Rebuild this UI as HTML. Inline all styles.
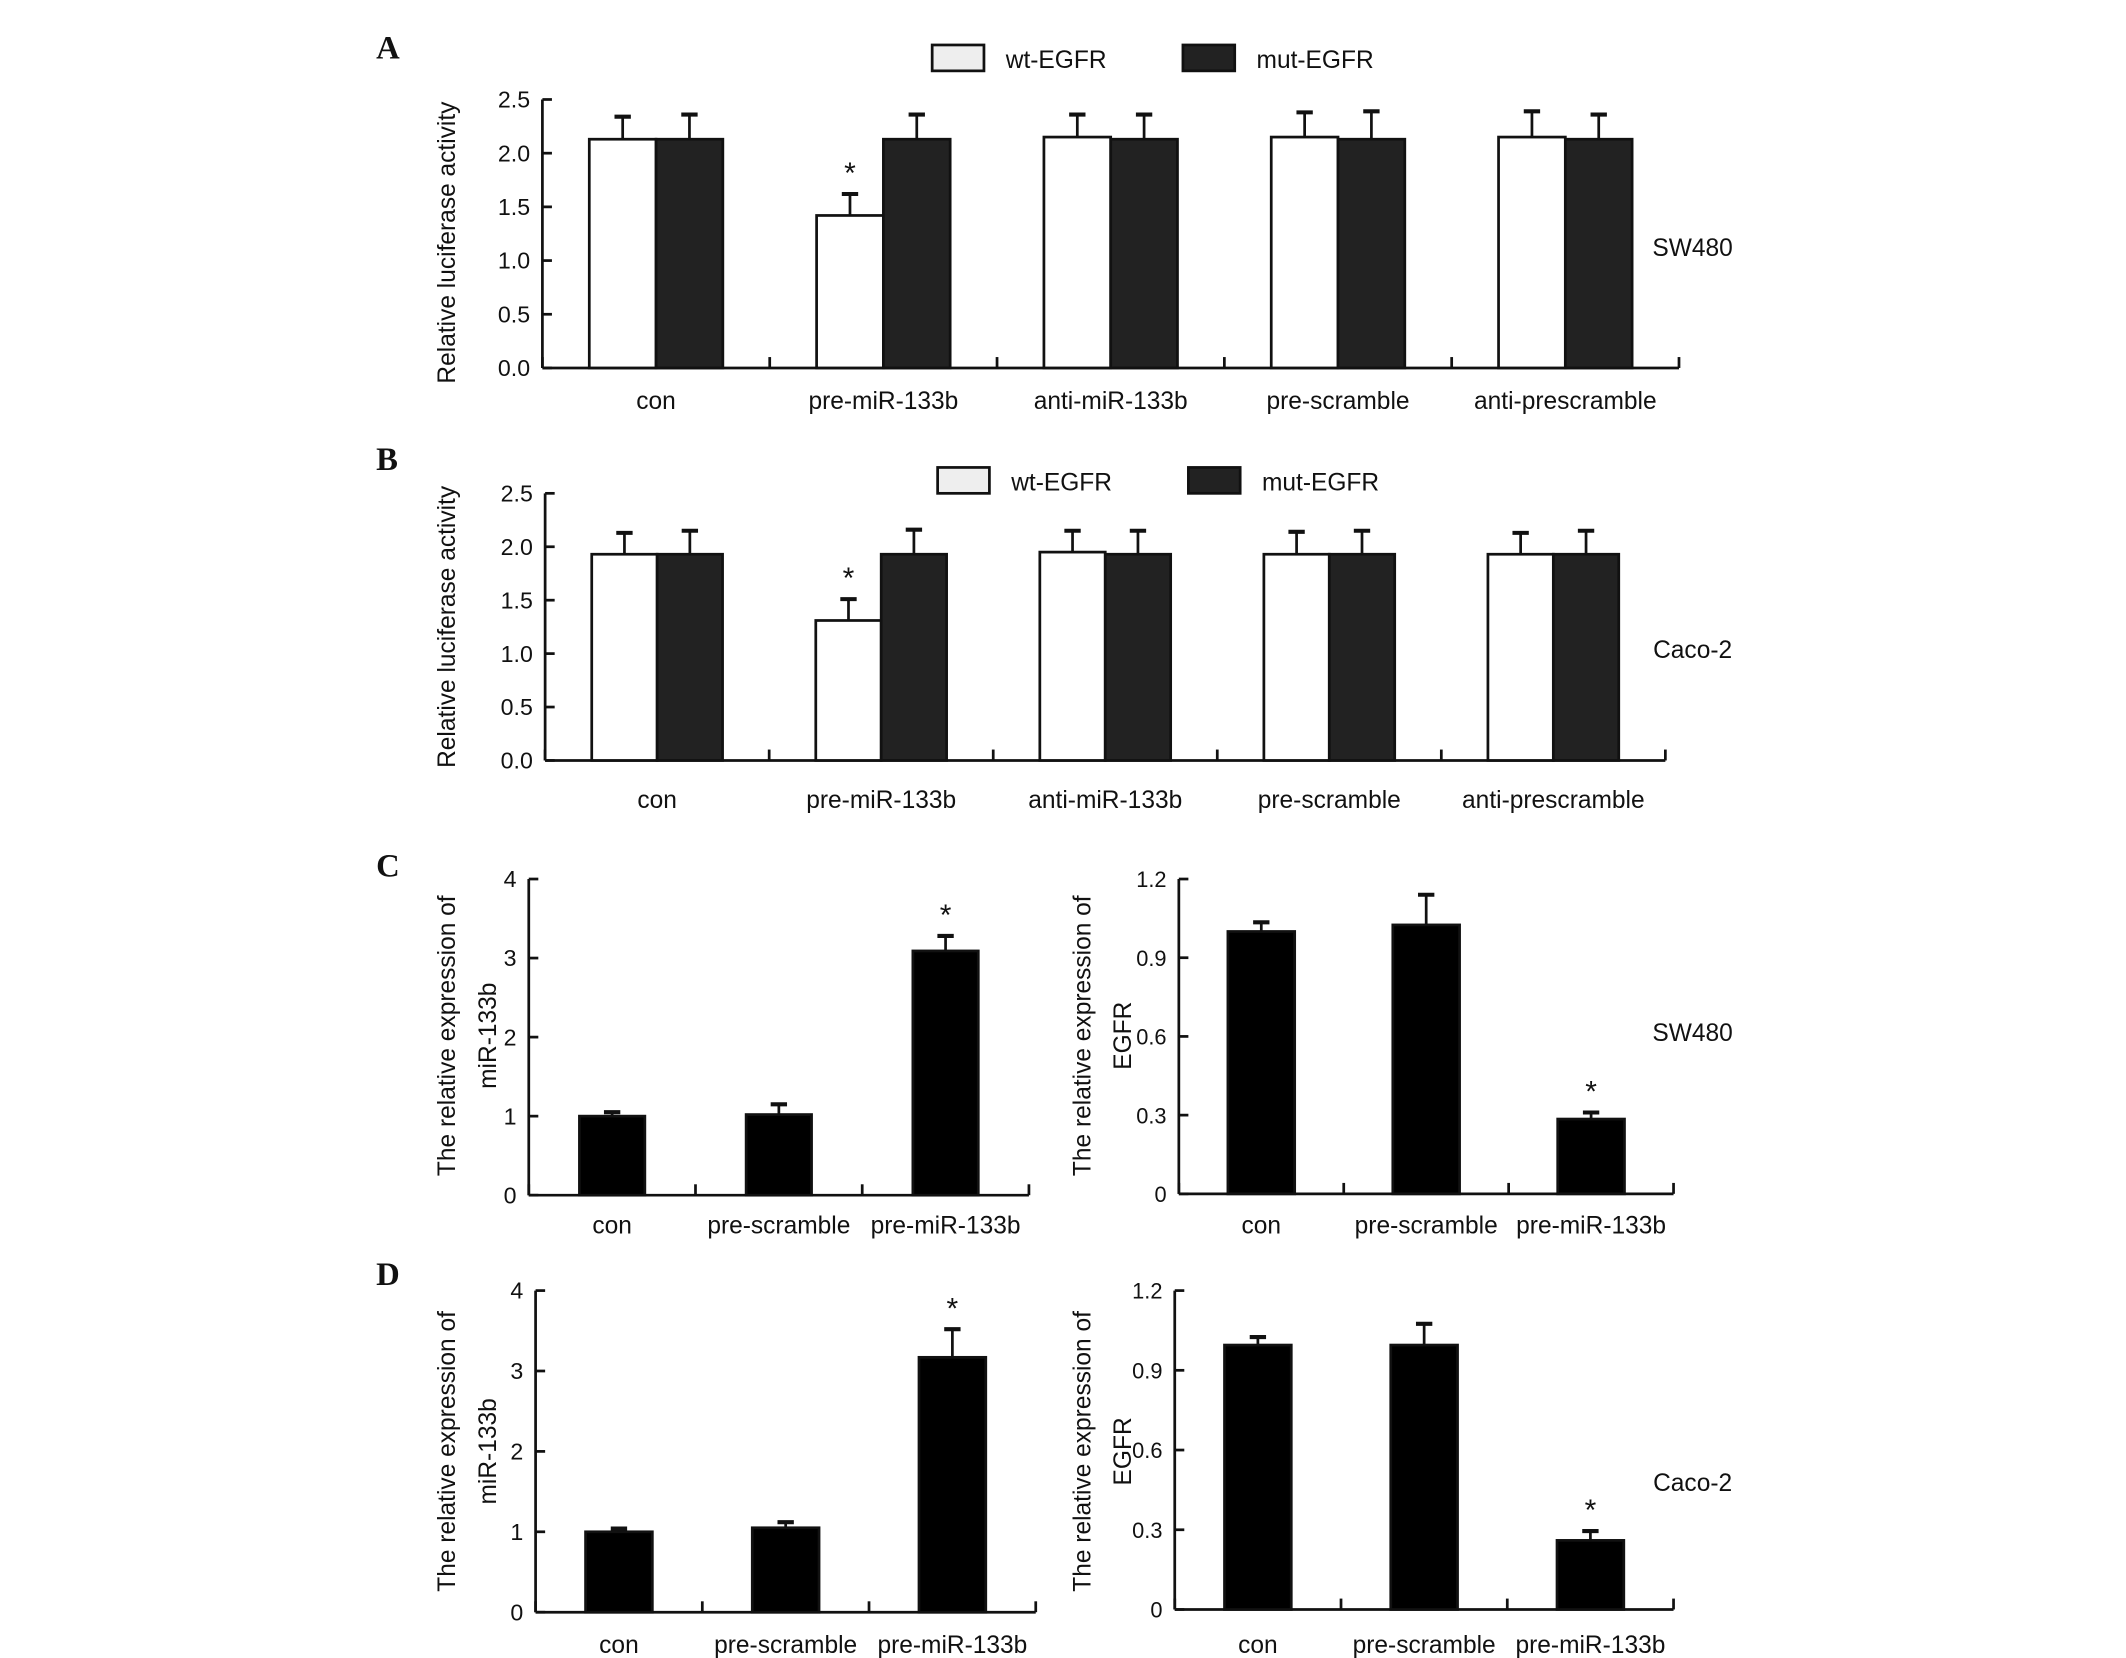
<!DOCTYPE html>
<html><head><meta charset="utf-8"><style>
html,body{margin:0;padding:0;background:#fff;}
svg{display:block;}
text{font-family:"Liberation Sans",sans-serif;fill:#111;}
.n{font-family:"Liberation Sans Narrow","Liberation Sans",sans-serif;}
.L{font-family:"Liberation Serif",serif;font-weight:bold;font-size:24px;}
</style></head><body>
<svg id="fig" width="2126" height="1658" viewBox="0 0 1560 1216.6" preserveAspectRatio="none" xmlns="http://www.w3.org/2000/svg">
<text class="L" x="276" y="43">A</text>
<text class="L" x="276" y="345">B</text>
<text class="L" x="276" y="643">C</text>
<text class="L" x="276" y="943">D</text>
</svg>
<script>
const catsAB = ["con","pre-miR-133b","anti-miR-133b","pre-scramble","anti-prescramble"];
const aWt = [2.13,1.42,2.15,2.15,2.15];
const aWtErr = [2.34,1.62,2.36,2.38,2.39];
const aMut = [2.13,2.13,2.13,2.13,2.13];
const aMutErr = [2.36,2.36,2.36,2.39,2.36];
const bWt = [1.93,1.31,1.95,1.93,1.93];
const bWtErr = [2.13,1.51,2.15,2.14,2.13];
const bMut = [1.93,1.93,1.93,1.93,1.93];
const bMutErr = [2.15,2.16,2.15,2.15,2.15];
const ticksAB = ["0.0","0.5","1.0","1.5","2.0","2.5"];
const catsCD = ["con","pre-scramble","pre-miR-133b"];
const cMir = [1.0,1.02,3.09];
const cMirErr = [1.05,1.15,3.28];
const cEgfr = [1.0,1.025,0.285];
const cEgfrErr = [1.035,1.14,0.31];
const dMir = [1.0,1.05,3.17];
const dMirErr = [1.04,1.12,3.52];
const dEgfr = [0.995,0.995,0.26];
const dEgfrErr = [1.025,1.075,0.295];
const ticksMir = ["0","1","2","3","4"];
const ticksEgfr = ["0","0.3","0.6","0.9","1.2"];
const sigAB = [1];
const sigCD = [2];

const svg = document.getElementById('fig');
const NS = "http://www.w3.org/2000/svg";
function mk(tag, attrs, parent){const e=document.createElementNS(NS,tag);for(const k in attrs)e.setAttribute(k,attrs[k]);(parent||svg).appendChild(e);return e;}
function txt(x,y,s,size,anchor,cls,parent){const t=mk('text',{x:x,y:y,'font-size':size,'text-anchor':anchor||'middle'},parent);if(cls)t.setAttribute('class',cls);t.textContent=s;return t;}

function chart(o){
  const g=mk('g',{});
  
  
  const y=v=>o.y0-(v/o.max)*(o.y0-o.yTop);
  const n=o.cats.length, groupW=(o.xEnd-o.x0)/n;
  const ya=mk('line',{x1:o.x0,y1:o.yTop,x2:o.x0,y2:o.y0,stroke:'#111','stroke-width':2},g);
  
  
  const xa=mk('line',{x1:o.x0,y1:o.y0,x2:o.xEnd,y2:o.y0,stroke:'#111','stroke-width':2},g);
  
  
  const ts=o.tickSize||17;
  o.ticks.forEach((t,i)=>{
    const v=o.max*i/(o.ticks.length-1), yy=y(v);
    mk('line',{x1:o.x0,y1:yy,x2:o.x0+7,y2:yy,stroke:'#111','stroke-width':2},g);
    const tl=txt(o.x0-9,yy+6,t,ts,'end',o.cls,g);
    
    
  });
  for(let i=0;i<=n;i++){const xx=o.x0+groupW*i;mk('line',{x1:xx,y1:o.y0,x2:xx,y2:o.y0-8,stroke:'#111','stroke-width':2},g);}
  o.cats.forEach((c,i)=>{
    const cx=o.x0+groupW*(i+0.5);
    const cl=txt(cx,o.labY,c,18,'middle',o.cls,g);
    
    
    o.series.forEach((s,j)=>{
      const bx=cx-o.bw*o.series.length/2+o.bw*j;
      const top=y(s.vals[i]);
      const r=mk('rect',{x:bx,y:top,width:o.bw,height:o.y0-top,fill:s.fill,stroke:'#111','stroke-width':2},g);
      
      
      const ex=bx+o.bw/2, et=y(s.err[i]);
      mk('line',{x1:ex,y1:top,x2:ex,y2:et,stroke:'#111','stroke-width':2},g);
      mk('line',{x1:ex-6,y1:et,x2:ex+6,y2:et,stroke:'#111','stroke-width':3},g);
      if(s.sig && s.sig.includes(i)){
        const st=txt(ex,et-8,'*',22,'middle',null,g);
        
        
      }
    });
  });
  o.title.forEach((l,k)=>{
    const tx=o.titleX+k*30;
    const t=mk('text',{x:0,y:0,'font-size':18,'text-anchor':'middle',transform:`translate(${tx},${o.titleY}) rotate(-90)`},g);
    t.textContent=l;
    
    
  });
  if(o.cell){const ct=txt(o.cell[0],o.cell[1],o.cell[2],18,'middle',o.cls,g);
    
    }
  return g;
}
function legend(x,y,cls){
  const a=mk('rect',{x:x,y:y,width:38,height:19,fill:'#eee',stroke:'#111','stroke-width':2});
  
  
  const t1=txt(x+54,y+17,'wt-EGFR',18,'start',cls);
  
  
  const b=mk('rect',{x:x+184,y:y,width:38,height:19,fill:'#222',stroke:'#111','stroke-width':2});
  
  
  const t2=txt(x+238,y+17,'mut-EGFR',18,'start',cls);
  
  
}
chart({name:'panel-a-chart',x0:398,xEnd:1232,yTop:73,y0:270,max:2.5,bw:49,labY:300,cats:catsAB,ticks:ticksAB,cls:'n',
  series:[{key:'wt',vals:aWt,err:aWtErr,fill:'#fff',sig:sigAB},{key:'mut',vals:aMut,err:aMutErr,fill:'#222'}],
  title:['Relative luciferase activity'],titleX:334,titleY:178,cell:[1242,188,'SW480']});
legend(684,33,'n');
chart({name:'panel-b-chart',x0:400,xEnd:1222,yTop:362,y0:558,max:2.5,bw:48,labY:593,cats:catsAB,ticks:ticksAB,cls:null,
  series:[{key:'wt',vals:bWt,err:bWtErr,fill:'#fff',sig:sigAB},{key:'mut',vals:bMut,err:bMutErr,fill:'#222'}],
  title:['Relative luciferase activity'],titleX:334,titleY:460,cell:[1242,483,'Caco-2']});
legend(688,343,null);
chart({name:'panel-c-mir-chart',x0:388,xEnd:755,yTop:645,y0:877,max:4,bw:48,labY:905,cats:catsCD,ticks:ticksMir,cls:'n',
  series:[{key:'mir',vals:cMir,err:cMirErr,fill:'#000',sig:sigCD}],
  title:['The relative expression of','miR-133b'],titleX:334,titleY:760});
chart({name:'panel-c-egfr-chart',x0:865,xEnd:1228,yTop:645,y0:876,max:1.2,bw:49,labY:905,cats:catsCD,ticks:ticksEgfr,cls:'n',tickSize:16,
  series:[{key:'egfr',vals:cEgfr,err:cEgfrErr,fill:'#000',sig:sigCD}],
  title:['The relative expression of','EGFR'],titleX:800,titleY:760,cell:[1242,764,'SW480']});
chart({name:'panel-d-mir-chart',x0:393,xEnd:760,yTop:947,y0:1183,max:4,bw:49,labY:1213,cats:catsCD,ticks:ticksMir,cls:'n',
  series:[{key:'mir',vals:dMir,err:dMirErr,fill:'#000',sig:sigCD}],
  title:['The relative expression of','miR-133b'],titleX:334,titleY:1065});
chart({name:'panel-d-egfr-chart',x0:862,xEnd:1228,yTop:947,y0:1181,max:1.2,bw:49,labY:1213,cats:catsCD,ticks:ticksEgfr,cls:'n',tickSize:16,
  series:[{key:'egfr',vals:dEgfr,err:dEgfrErr,fill:'#000',sig:sigCD}],
  title:['The relative expression of','EGFR'],titleX:800,titleY:1065,cell:[1242,1094,'Caco-2']});
</script>
</body></html>
